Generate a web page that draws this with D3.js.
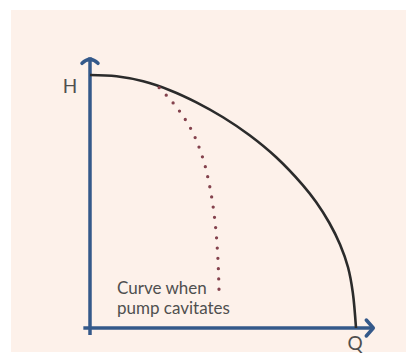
<!DOCTYPE html>
<html>
<head>
<meta charset="utf-8">
<script src="https://cdn.jsdelivr.net/npm/d3@7"></script>
<style>
  html, body { margin: 0; padding: 0; background: #ffffff; }
  svg { display: block; }
</style>
</head>
<body>
<div id="chart"></div>
<script>
// Pump head (H) against flow (Q): normal curve and the curve under cavitation
const pumpQ = [0, 1, 2, 3, 4, 5, 6, 7, 8, 8.5, 9, 9.4, 9.7, 9.88, 10];
const pumpH = [10, 9.95, 9.75, 9.4, 8.92, 8.33, 7.62, 6.75, 5.65, 4.98, 4.15, 3.3, 2.4, 1.4, 0];

const cavQ = [2.6, 3.2, 3.75, 4.2, 4.5, 4.7, 4.8, 4.85];
const cavH = [9.5, 8.8, 7.95, 6.85, 5.6, 4.2, 2.9, 1.5];

const axisLabels = ["H", "Q"];
const noteLines = ["Curve when", "pump cavitates"];

const W = 406, H = 354;
const svg = d3.select("#chart").append("svg")
  .attr("width", W).attr("height", H);

// paper background
svg.append("rect")
  .attr("x", 11).attr("y", 10)
  .attr("width", W - 11).attr("height", 342)
  .attr("fill", "#fdf1ea");

const x = d3.scaleLinear().domain([0, 10]).range([90, 356]);
const y = d3.scaleLinear().domain([0, 10]).range([328, 75]);

const axisColor = "#34598a";
const textColor = "#4f4f4f";

// axes with arrow heads
const xEnd = x(10.65), yEnd = y(10.7);
svg.append("line")
  .attr("x1", x(-0.25)).attr("y1", y(0))
  .attr("x2", xEnd).attr("y2", y(0))
  .attr("stroke", axisColor).attr("stroke-width", 3.5);
svg.append("line")
  .attr("x1", x(0)).attr("y1", y(-0.28))
  .attr("x2", x(0)).attr("y2", yEnd)
  .attr("stroke", axisColor).attr("stroke-width", 3.5);

svg.append("path")
  .attr("d", `M${xEnd - 7},${y(0) - 8} L${xEnd},${y(0)} L${xEnd - 7},${y(0) + 8}`)
  .attr("fill", "none").attr("stroke", axisColor).attr("stroke-width", 3.5)
  .attr("stroke-linecap", "round").attr("stroke-linejoin", "round");
svg.append("path")
  .attr("d", `M${x(0) - 8},${yEnd + 6} Q${x(0)},${yEnd - 2} ${x(0) + 8},${yEnd + 6}`)
  .attr("fill", "none").attr("stroke", axisColor).attr("stroke-width", 3.5)
  .attr("stroke-linecap", "round").attr("stroke-linejoin", "round");

// normal pump curve
const mainLine = d3.line()
  .x(d => x(d[0])).y(d => y(d[1]))
  .curve(d3.curveCatmullRom.alpha(0.5));

svg.append("path")
  .datum(d3.zip(pumpQ, pumpH))
  .attr("d", mainLine)
  .attr("fill", "none")
  .attr("stroke", "#2b2b2b")
  .attr("stroke-width", 2.6);

// cavitation curve (dotted)
const cavLine = d3.line()
  .x(d => x(d[0])).y(d => y(d[1]))
  .curve(d3.curveMonotoneY);

svg.append("path")
  .datum(d3.zip(cavQ, cavH))
  .attr("d", cavLine)
  .attr("fill", "none")
  .attr("stroke", "#84424d")
  .attr("stroke-width", 3.3)
  .attr("stroke-linecap", "round")
  .attr("stroke-dasharray", "0 10.3");

// labels
const font = "Lato, 'Open Sans', sans-serif";
svg.append("text")
  .attr("x", x(0) - 20).attr("y", y(10) + 18)
  .attr("text-anchor", "middle")
  .attr("font-family", font).attr("font-size", 19)
  .attr("fill", textColor)
  .text(axisLabels[0]);
svg.append("text")
  .attr("x", x(10) - 1).attr("y", y(0) + 22)
  .attr("text-anchor", "middle")
  .attr("font-family", font).attr("font-size", 19)
  .attr("fill", textColor)
  .text(axisLabels[1]);

const note = svg.append("text")
  .attr("font-family", font).attr("font-size", 17)
  .attr("fill", textColor);
note.selectAll("tspan")
  .data(noteLines)
  .join("tspan")
  .attr("x", 117)
  .attr("y", (d, i) => 293.5 + i * 20.5)
  .text(d => d);
</script>
</body>
</html>
